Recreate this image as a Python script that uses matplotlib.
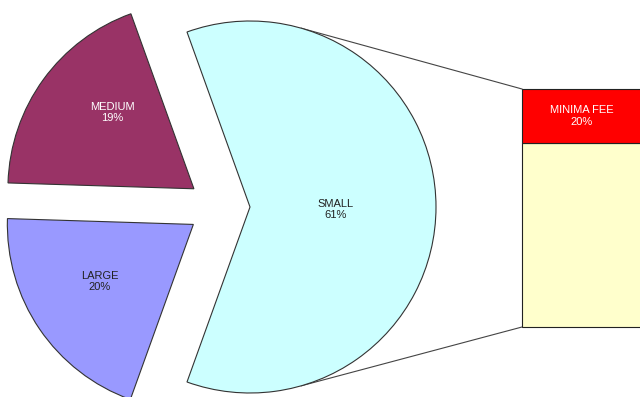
import numpy as np
import matplotlib
matplotlib.use("Agg")
import matplotlib.pyplot as plt

# ---- data ----
pie_labels = ["SMALL", "MEDIUM", "LARGE"]
pie_values = [61, 19, 20]
pie_colors = ["#CCFFFF", "#993366", "#9999FF"]
pie_text_colors = ["#222222", "#FFFFFF", "#222222"]

bar_labels = ["", "MINIMA FEE"]          # bottom segment unlabeled, top = MINIMA FEE
bar_values = [68, 20]
bar_pct_labels = ["", "20%"]
bar_colors = ["#FFFFCC", "#FF0000"]

plt.rcParams["font.family"] = ["Liberation Sans", "DejaVu Sans"]

W, H = 640, 397
fig = plt.figure(figsize=(W / 100, H / 100), dpi=100)
ax = fig.add_axes([0, 0, 1, 1])

# pie geometry (pixel-like data coordinates, y up)
cx, cy, R = 219, 190, 186
explode_px = 31   # matplotlib applies explode as an absolute offset in data units
start = -360 * pie_values[0] / 100 / 2

wedges, _ = ax.pie(pie_values, colors=pie_colors, startangle=start,
                   counterclock=True, center=(cx, cy), radius=R,
                   explode=[explode_px] * len(pie_values),
                   wedgeprops=dict(edgecolor="#333333", linewidth=0.8))

label_dist = [0.46, 0.6, 0.59]
label_dang = [-1.5, -7, -3]
for w, lab, val, tc, ld, da in zip(wedges, pie_labels, pie_values, pie_text_colors,
                                   label_dist, label_dang):
    mid = np.deg2rad((w.theta1 + w.theta2) / 2 + da)
    vx, vy = w.center
    ax.text(vx + ld * R * np.cos(mid), vy + ld * R * np.sin(mid),
            f"{lab}\n{val}%", ha="center", va="center", fontsize=8,
            color=tc, linespacing=1.15)

# bar of pie
bar_left, bar_w = 522, 119
bar_bottom, bar_h = 70, 238
total = sum(bar_values)
scale = bar_h / total
bottom = bar_bottom
for v, c, lab, pl in zip(bar_values, bar_colors, bar_labels, bar_pct_labels):
    ax.bar(bar_left + bar_w / 2, v * scale, width=bar_w, bottom=bottom,
           color=c, edgecolor="#222222", linewidth=0.8)
    if lab:
        ax.text(bar_left + bar_w / 2, bottom + v * scale / 2, f"{lab}\n{pl}",
                ha="center", va="center", fontsize=8, color="white",
                linespacing=1.15)
    bottom += v * scale

# connector lines from the SMALL wedge to the bar
sw = wedges[0]
sx, sy = sw.center
conn_angle = np.deg2rad(74)
ax.plot([sx + R * np.cos(conn_angle), bar_left],
        [sy + R * np.sin(conn_angle), bar_bottom + bar_h],
        color="#444444", linewidth=0.8, zorder=0)
ax.plot([sx + R * np.cos(-conn_angle), bar_left],
        [sy + R * np.sin(-conn_angle), bar_bottom],
        color="#444444", linewidth=0.8, zorder=0)

ax.set_xlim(0, W)
ax.set_ylim(0, H)
ax.set_aspect("auto")
ax.axis("off")

fig.savefig("out.png", dpi=100, facecolor="white")
